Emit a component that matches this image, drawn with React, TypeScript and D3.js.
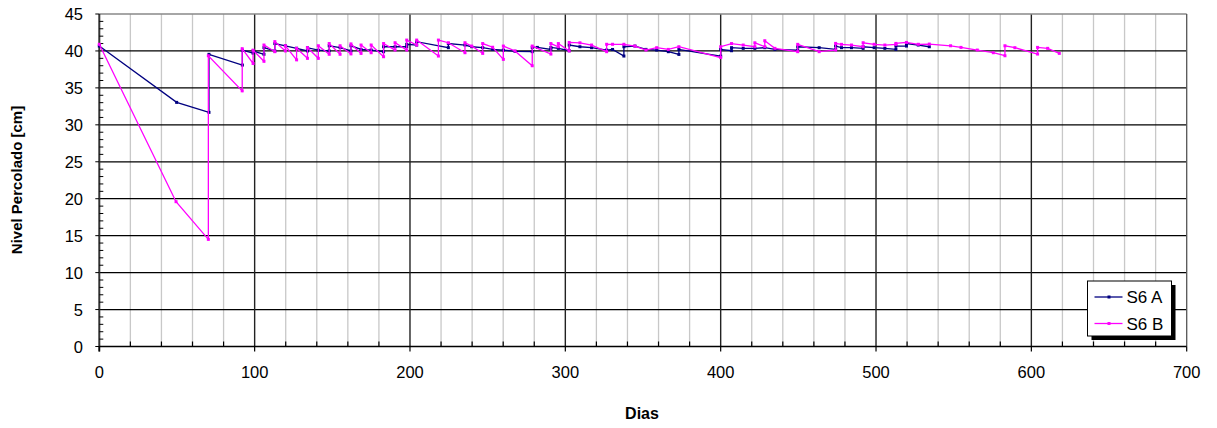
import React from 'react';
import * as d3 from 'd3';

const xTicks = [0, 100, 200, 300, 400, 500, 600, 700];
const yTicks = [0, 5, 10, 15, 20, 25, 30, 35, 40, 45];
const seriesNames = ['S6 A', 'S6 B'];
const seriesColors = ['#000080', '#FF00FF'];

// S6 A : [dia, nivel]
const seriesA: [number, number][] = [
  [0, 40.66], [49.8, 33.04], [70.6, 31.69], [70.6, 39.54], [92.1, 38.09], [92.1, 40.1],
  [99, 39.7], [99, 40.0], [106, 39.55], [106, 40.45], [113, 40.0], [113, 41.0],
  [119.8, 40.7], [127, 40.36], [134, 40.0], [134, 40.44], [141, 40.1], [148, 40.0], [148, 40.7],
  [155, 40.45], [162, 40.0], [162, 40.7], [168.5, 40.21], [175, 40.12], [183, 39.9], [183, 40.57],
  [190.4, 40.57], [197.9, 40.57], [197.9, 40.9], [204.3, 40.8], [204.3, 41.25],
  [224.7, 40.44], [224.7, 41.0], [235.4, 40.8], [239.7, 40.57], [246.8, 40.44], [253.2, 40.21],
  [260.1, 40.12], [267.6, 39.95], [278.7, 39.9], [278.7, 40.48], [282, 40.48], [290.7, 40.2], [290.7, 40.48],
  [295.5, 40.35], [302.5, 40.03], [302.5, 40.8], [309.4, 40.57], [316.9, 40.44], [326.6, 40.12],
  [330.4, 40.2], [337.7, 39.31], [337.7, 40.57], [344.8, 40.66], [351.9, 40.21], [358.8, 40.12],
  [366.3, 39.9], [373.1, 39.53], [373.1, 40.2], [400, 39.3], [400, 40.2], [407, 40.03], [407, 40.44],
  [414.5, 40.35], [422, 40.35], [428.4, 40.44], [434.9, 40.21], [449.6, 40.12], [449.6, 40.57],
  [463.4, 40.44], [474, 40.21], [474, 40.66], [477.8, 40.44], [484.2, 40.44], [491.7, 40.35], [491.7, 40.57],
  [498.8, 40.44], [505.7, 40.35], [512.8, 40.21], [512.8, 40.66], [519.6, 40.66], [519.6, 41.0],
  [527.2, 40.8], [534.3, 40.57],
];

// S6 B : [dia, nivel]
const seriesB: [number, number][] = [
  [0, 40.9], [49.4, 19.6], [70.2, 14.5], [70.2, 39.35], [92, 34.6], [92, 40.3],
  [99, 38.3], [99, 40.1], [106, 38.6], [106, 40.8], [113, 39.9], [113, 41.26],
  [119.8, 40.0], [119.8, 40.7], [127, 38.8], [127, 40.36], [134, 39.0], [134, 40.45],
  [141, 39.0], [141, 40.7], [148, 39.55], [148, 41.0], [155, 39.55], [155, 40.7],
  [162, 39.6], [162, 40.95], [168.5, 39.67], [168.5, 40.8], [175, 39.76], [175, 40.8],
  [183, 39.22], [183, 41.0], [190.4, 40.12], [190.4, 41.11], [197.9, 40.12], [197.9, 41.47],
  [204.3, 40.8], [204.3, 41.47], [218.3, 39.31], [218.3, 41.47], [224.7, 41.11],
  [235.4, 39.76], [235.4, 41.11], [239.7, 40.66], [246.8, 39.67], [246.8, 41.0], [253.2, 40.5],
  [260.1, 38.86], [260.1, 40.66], [267.6, 40.0], [278.7, 38.0], [278.7, 40.66],
  [290.7, 39.58], [290.7, 41.0], [295.5, 40.57], [295.5, 41.0], [302.5, 40.0], [302.5, 41.15],
  [309.4, 41.1], [316.9, 40.8], [326.6, 39.9], [326.6, 40.9], [330.4, 40.9], [337.7, 40.9],
  [344.8, 40.66], [351.9, 40.12], [358.8, 40.44], [366.3, 40.21], [373.1, 40.57],
  [400, 39.1], [400, 40.57], [407, 41.0], [414.5, 40.8], [422, 40.57], [422, 41.1],
  [428.4, 40.57], [428.4, 41.38], [434.9, 40.35], [449.6, 39.9], [449.6, 40.89], [463.4, 39.9],
  [474, 40.12], [474, 41.02], [477.8, 40.89], [484.2, 40.8], [491.7, 40.57], [491.7, 41.11],
  [498.8, 40.9], [505.7, 40.8], [512.8, 40.89], [512.8, 41.02], [519.6, 41.15], [527.2, 40.9],
  [534.3, 40.93], [548, 40.7], [554.7, 40.48], [565.2, 40.12], [575.5, 39.76],
  [583, 39.35], [583, 40.7], [589.4, 40.44], [604, 39.58], [604, 40.48], [610.5, 40.35], [618, 39.67],
];

const xTitle = 'Dias';
const yTitle = 'Nivel Percolado [cm]';

export default function App() {
  const W = 1217, H = 428;
  const x = d3.scaleLinear().domain([0, 700]).range([99.3, 1186.7]);
  const y = d3.scaleLinear().domain([0, 45]).range([346.5, 14]);
  const line = d3.line<[number, number]>().x(d => x(d[0])).y(d => y(d[1]));
  const font = 'Arial, "Liberation Sans", sans-serif';

  const minorX = d3.range(0, 701, 20).filter(v => v % 100 !== 0);
  const minorY = d3.range(0, 46, 1).filter(v => v % 5 !== 0);
  const [x0, x1] = x.range();
  const yb = y(0), yt = y(45);

  const series = [seriesA, seriesB];

  // legend
  const lgX = 1087.5, lgY = 281, lgW = 84, lgH = 55;

  return (
    <svg width={W} height={H} style={{ position: 'absolute', left: 0, top: 0, display: 'block', background: '#fff' }}
      fontFamily={font}>
      <rect x={0} y={0} width={W} height={H} fill="#fff" />
      {/* minor vertical grid */}
      {minorX.map(v => (
        <line key={'mx' + v} x1={x(v)} x2={x(v)} y1={yt} y2={yb} stroke="#c8c8c8" strokeWidth={1.3} />
      ))}
      {/* horizontal grid */}
      {yTicks.filter(v => v > 0 && v < 45).map(v => (
        <line key={'gy' + v} x1={x0} x2={x1} y1={y(v)} y2={y(v)} stroke="#000" strokeWidth={1.2} />
      ))}
      {/* major vertical grid */}
      {xTicks.filter(v => v > 0 && v < 700).map(v => (
        <line key={'gx' + v} x1={x(v)} x2={x(v)} y1={yt} y2={yb} stroke="#222" strokeWidth={1.4} />
      ))}
      {/* frame */}
      <line x1={x0} x2={x1} y1={yt} y2={yt} stroke="#888" strokeWidth={1.5} />
      <line x1={x1} x2={x1} y1={yt} y2={yb} stroke="#555" strokeWidth={1.3} />
      <line x1={x0} x2={x0} y1={yt} y2={yb + 5} stroke="#333" strokeWidth={2} />
      <line x1={x0} x2={x1} y1={yb} y2={yb} stroke="#000" strokeWidth={1.5} />
      {/* x ticks */}
      {xTicks.map(v => (
        <line key={'tx' + v} x1={x(v)} x2={x(v)} y1={yb} y2={yb + 5} stroke="#000" strokeWidth={1.2} />
      ))}
      {minorX.map(v => (
        <line key={'tmx' + v} x1={x(v)} x2={x(v)} y1={yb} y2={yb - 5} stroke="#000" strokeWidth={1.2} />
      ))}
      {/* y ticks */}
      {minorY.map(v => (
        <line key={'tmy' + v} x1={x0} x2={x0 + 4} y1={y(v)} y2={y(v)} stroke="#000" strokeWidth={1} />
      ))}
      {yTicks.map(v => (
        <line key={'ty' + v} x1={x0 - 4} x2={x0} y1={y(v)} y2={y(v)} stroke="#000" strokeWidth={1} />
      ))}
      {/* tick labels */}
      {xTicks.map(v => (
        <text key={'lx' + v} x={x(v)} y={378} textAnchor="middle" fontSize={16.5} fill="#000">{v}</text>
      ))}
      {yTicks.map(v => (
        <text key={'ly' + v} x={83} y={y(v) + 6} textAnchor="end" fontSize={16.5} fill="#000">{v}</text>
      ))}
      {/* titles */}
      <text x={642} y={419} textAnchor="middle" fontSize={16} fontWeight="bold">{xTitle}</text>
      <text transform={`translate(22,180) rotate(-90)`} textAnchor="middle" fontSize={15} fontWeight="bold">{yTitle}</text>
      {/* series */}
      {series.map((s, i) => (
        <g key={'s' + i}>
          <path d={line(s) || ''} fill="none" stroke={seriesColors[i]} strokeWidth={1.3} />
          {s.map((d, j) => (
            <rect key={j} x={x(d[0]) - 1.5} y={y(d[1]) - 1.5} width={3} height={3} fill={seriesColors[i]} />
          ))}
        </g>
      ))}
      {/* legend */}
      <rect x={lgX + 4} y={lgY + 4} width={lgW} height={lgH} fill="#000" />
      <rect x={lgX} y={lgY} width={lgW} height={lgH} fill="#fff" stroke="#000" strokeWidth={1} />
      {seriesNames.map((n, i) => {
        const cy = lgY + 16 + i * 26.5;
        return (
          <g key={'lg' + i}>
            <line x1={lgX + 7} x2={lgX + 35} y1={cy} y2={cy} stroke={seriesColors[i]} strokeWidth={1.3} />
            <rect x={lgX + 20} y={cy - 1.5} width={3} height={3} fill={seriesColors[i]} />
            <text x={lgX + 39} y={cy + 6} fontSize={17} fill="#000">{n}</text>
          </g>
        );
      })}
    </svg>
  );
}
